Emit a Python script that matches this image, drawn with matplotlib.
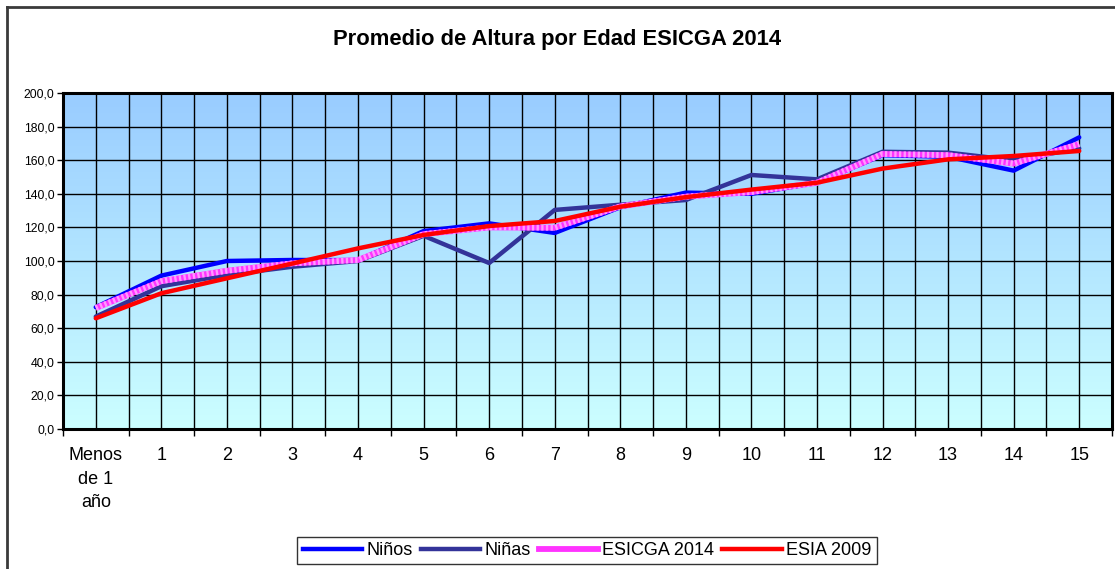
import matplotlib
matplotlib.use("Agg")
import matplotlib.pyplot as plt
import numpy as np
from matplotlib.lines import Line2D

plt.rcParams['font.family'] = ['Liberation Sans', 'DejaVu Sans']

categories = ["Menos\nde 1\naño", "1", "2", "3", "4", "5", "6", "7", "8",
              "9", "10", "11", "12", "13", "14", "15"]
ninos = [72.5, 91.3, 100.0, 100.6, 100.5, 117.8, 122.4, 116.7, 132.0,
         140.7, 140.0, 146.6, 163.0, 162.0, 153.8, 173.6]
ninas = [66.9, 85.0, 91.7, 96.6, 100.0, 115.0, 98.8, 130.4, 133.5,
         136.3, 151.2, 148.6, 165.0, 164.5, 160.0, 167.0]
esicga = [72.0, 88.0, 94.2, 98.6, 100.6, 116.0, 120.0, 119.8, 132.5,
          138.3, 141.0, 146.6, 163.7, 163.0, 158.0, 169.6]
esia = [65.9, 80.8, 89.7, 98.5, 107.5, 115.5, 120.8, 123.8, 132.3,
        138.0, 142.5, 146.6, 155.0, 160.5, 162.5, 165.5]
yticks = [0, 20, 40, 60, 80, 100, 120, 140, 160, 180, 200]

W, H = 1115, 569
fig = plt.figure(figsize=(W / 100, H / 100), dpi=100)
fig.patch.set_facecolor('white')

# figure border (left and top visible)
fig.add_artist(Line2D([7 / W, 7 / W], [0, 1 - 6.5 / H], transform=fig.transFigure,
                      color='#3a3a3a', lw=2))
fig.add_artist(Line2D([7 / W, 1], [1 - 6.5 / H, 1 - 6.5 / H], transform=fig.transFigure,
                      color='#3a3a3a', lw=2))

left, right, top, bottom = 63, 1112, 93, 429
ax = fig.add_axes([left / W, 1 - bottom / H, (right - left) / W, (bottom - top) / H])

x = np.arange(len(categories))
ax.set_xlim(-0.5, len(categories) - 0.5)
ax.set_ylim(0, 200)

# gradient background
grad = np.linspace(0, 1, 256).reshape(-1, 1)
top_c = np.array([153, 204, 255]) / 255
bot_c = np.array([204, 255, 255]) / 255
img = top_c * (1 - grad[:, :, None]) + bot_c * grad[:, :, None]
img = np.repeat(img, 2, axis=1)
ax.imshow(img, extent=[-0.5, len(categories) - 0.5, 0, 200], aspect='auto',
          zorder=0, origin='upper')

# grid
for gx in np.arange(-0.5, len(categories) - 0.4, 0.5):
    ax.axvline(gx, color='black', lw=1, zorder=1)
for gy in yticks[1:-1]:
    ax.axhline(gy, color='black', lw=1, zorder=1)

ax.plot(x, ninos, color='#0000FF', lw=3.2, zorder=3, solid_capstyle='round')
ax.plot(x, ninas, color='#333399', lw=3.2, zorder=4, solid_capstyle='round')
ax.plot(x, esicga, color='#FF33FF', lw=4.2, zorder=5, solid_capstyle='butt')
ax.plot(x, esicga, color='#FF99FF', lw=4.2, zorder=5, dashes=(0.4, 0.4))
ax.plot(x, esia, color='#FF0000', lw=3.2, zorder=6, solid_capstyle='round')

for s in ax.spines.values():
    s.set_linewidth(2.2)
    s.set_color('black')
    s.set_zorder(7)

ax.set_yticks(yticks)
ax.set_yticklabels([f"{v:.1f}".replace('.', ',') for v in yticks], fontsize=8.8)
ax.tick_params(axis='y', direction='out', length=4, width=1, pad=2)

ax.set_xticks(np.arange(-0.5, len(categories), 1.0))
ax.set_xticklabels([])
ax.set_xticks(x, minor=True)
ax.set_xticklabels(categories, minor=True, fontsize=13, linespacing=1.5)
ax.tick_params(axis='x', which='major', direction='out', length=5, width=1)
ax.tick_params(axis='x', which='minor', length=0, pad=13)

fig.text(0.5, 1 - 40 / H, "Promedio de Altura por Edad ESICGA 2014",
         ha='center', va='center', fontsize=15.8, fontweight='bold')

handles = [
    Line2D([], [], color='#0000FF', lw=3.2),
    Line2D([], [], color='#333399', lw=3.2),
    Line2D([], [], color='#FF33FF', lw=4.2),
    Line2D([], [], color='#FF0000', lw=3.2),
]
labels = ["Niños", "Niñas", "ESICGA 2014", "ESIA 2009"]
leg = fig.legend(handles, labels, loc='center', bbox_to_anchor=(587 / W, 1 - 550.5 / H),
                 ncol=4, fontsize=13, frameon=True, fancybox=False, edgecolor='black',
                 handlelength=3.3, handletextpad=0.22, columnspacing=0.45,
                 borderpad=0.3, borderaxespad=0)
leg.get_frame().set_linewidth(1)

fig.savefig('out.png', dpi=100)
